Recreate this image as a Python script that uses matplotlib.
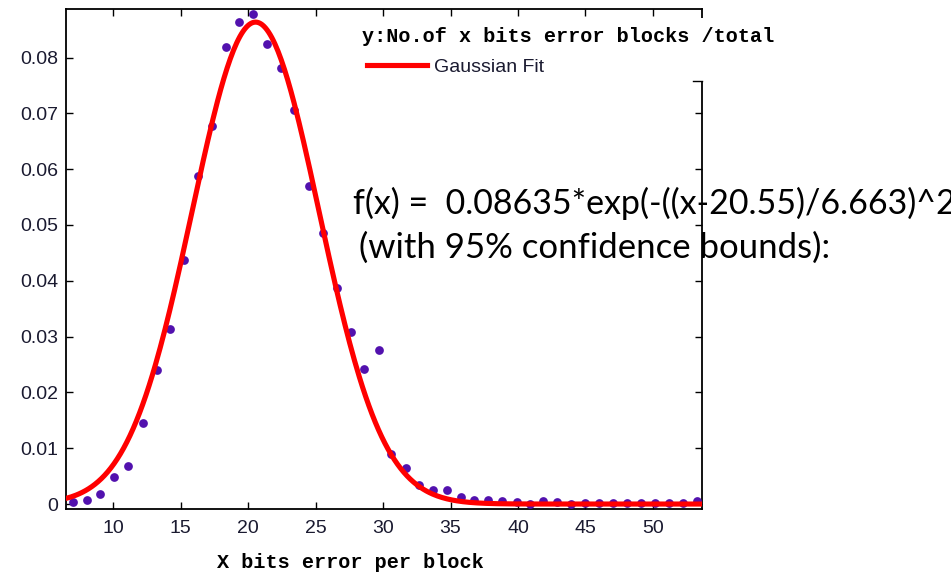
import matplotlib as mpl
import matplotlib.pyplot as plt
import numpy as np
from matplotlib.patches import Rectangle

# measured points (x bits error per block, fraction of blocks)
X_BITS = [6.99, 8.03, 9.01, 10.05, 11.11, 12.18, 13.21, 14.24, 15.27, 16.29,
          17.29, 18.33, 19.34, 20.38, 21.42, 22.43, 23.42, 24.53, 25.55, 26.58,
          27.62, 28.58, 29.70, 30.56, 31.68, 32.68, 33.72, 34.71, 35.75, 36.76,
          37.80, 38.84, 39.90, 40.89, 41.85, 42.91, 43.93, 44.96, 46.03, 47.06,
          48.10, 49.12, 50.15, 51.19, 52.20, 53.24]
FRACTION = [0.0004, 0.0007, 0.0018, 0.0049, 0.0069, 0.0146, 0.0240, 0.0314, 0.0437, 0.0588,
            0.0677, 0.0819, 0.0864, 0.0878, 0.0824, 0.0781, 0.0706, 0.0570, 0.0486, 0.0387,
            0.0309, 0.0242, 0.0276, 0.0090, 0.0064, 0.0034, 0.0026, 0.0025, 0.0012, 0.0007,
            0.0007, 0.0005, 0.0003, 0.0000, 0.0005, 0.0004, 0.0000, 0.0002, 0.0002, 0.0002,
            0.0002, 0.0002, 0.0002, 0.0002, 0.0001, 0.0005]

# gaussian fit parameters (a, b, c) as printed on the figure
FIT_A, FIT_B, FIT_C = 0.08635, 20.55, 6.663

X_TICKS = [10, 15, 20, 25, 30, 35, 40, 45, 50]
Y_TICKS = [0, 0.01, 0.02, 0.03, 0.04, 0.05, 0.06, 0.07, 0.08]
Y_TICK_LABELS = ["0", "0.01", "0.02", "0.03", "0.04", "0.05", "0.06", "0.07", "0.08"]

XLIM = (6.52, 53.62)
YLIM = (-0.0008, 0.0887)

POINT_COLOR = "#5211AE"
FIT_COLOR = "#FF0000"
TEXT_COLOR = "#1a1a30"

W, H = 951, 585


def fx(px):
    return px / W


def fy(py):
    return 1 - py / H


mpl.rcParams.update({
    "font.family": ["Liberation Sans", "DejaVu Sans"],
    "xtick.direction": "in",
    "ytick.direction": "in",
    "xtick.major.size": 5,
    "ytick.major.size": 5,
    "xtick.major.width": 1.0,
    "ytick.major.width": 1.0,
    "axes.linewidth": 1.3,
})

fig = plt.figure(figsize=(W / 100, H / 100), dpi=100)
ax = fig.add_axes([fx(66.3), fy(508.5), fx(701.7) - fx(66.3), fy(9) - fy(508.5)])

ax.plot(X_BITS, FRACTION, "o", color=POINT_COLOR, markersize=6.3, markeredgewidth=0,
        zorder=3, clip_on=False)

xs = np.linspace(XLIM[0], XLIM[1], 400)
ax.plot(xs, FIT_A * np.exp(-((xs - FIT_B) / FIT_C) ** 2), color=FIT_COLOR, lw=3.7,
        zorder=4, label="Gaussian Fit")

ax.set_xlim(*XLIM)
ax.set_ylim(*YLIM)
ax.set_xticks(X_TICKS)
ax.set_yticks(Y_TICKS, Y_TICK_LABELS)
ax.tick_params(top=True, right=True, labelsize=14, labelcolor=TEXT_COLOR, pad=6)
ax.tick_params(axis="x", pad=8)

# white legend area hides part of the right border
yc = (508.5 - 81) / 499.5
yt = (508.5 - 18) / 499.5
ax.add_patch(Rectangle((0.45, yc), 0.6, yt - yc, transform=ax.transAxes,
                       facecolor="white", edgecolor="none", zorder=5, clip_on=False))
ax.plot([0.986, 1.0], [yc, yc], transform=ax.transAxes, color="black", lw=1.0,
        zorder=6, clip_on=False)

leg = ax.legend(loc="upper left", bbox_to_anchor=(fx(367), fy(58)),
                bbox_transform=fig.transFigure, frameon=False, fontsize=14,
                handlelength=3.1, handletextpad=0.35, borderpad=0, borderaxespad=0)
leg.set_zorder(7)
for t in leg.get_texts():
    t.set_color(TEXT_COLOR)

fig.text(fx(362), fy(36), "y:No.of x bits error blocks /total", family="Liberation Mono",
         weight="bold", fontsize=14.5, va="center", ha="left", color="black", zorder=8)
fig.text(fx(350), fy(563), "X bits error per block", family="Liberation Mono",
         weight="bold", fontsize=14.5, va="center", ha="center", color="black")

# the formula runs off the right edge, as in the original
fig.text(fx(353), fy(203), "f(x) =  0.08635*exp(-((x-20.55)/6.663)^2", family="Lato",
         fontsize=24.5, va="center", ha="left", color="black", zorder=9)
fig.text(fx(350), fy(248), " (with 95% confidence bounds):", family="Lato",
         fontsize=25, va="center", ha="left", color="black", zorder=9)

fig.savefig("out.png", dpi=100)
